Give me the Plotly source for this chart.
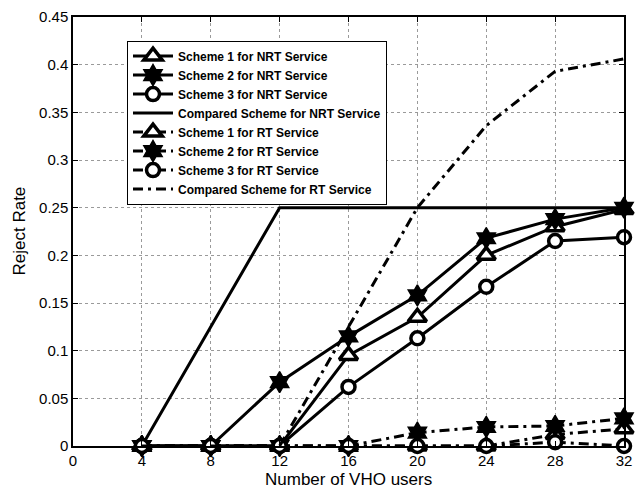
import plotly.graph_objects as go

# Number of VHO users
users = [4, 8, 12, 16, 20, 24, 28, 32]

# Reject rate, NRT service
s1_nrt = [0, 0, 0, 0.095, 0.135, 0.200, 0.230, 0.248]
s2_nrt = [0, 0, 0.067, 0.115, 0.158, 0.218, 0.238, 0.250]
s3_nrt = [0, 0, 0, 0.062, 0.113, 0.167, 0.215, 0.219]
cmp_nrt = [0, 0.125, 0.25, 0.25, 0.25, 0.25, 0.25, 0.25]

# Reject rate, RT service
s1_rt = [0, 0, 0, 0, 0, 0, 0.012, 0.018]
s2_rt = [0, 0, 0, 0, 0.014, 0.020, 0.021, 0.029]
s3_rt = [0, 0, 0, 0, 0, 0, 0.004, 0]
cmp_rt = [0, 0, 0, 0.125, 0.25, 0.336, 0.393, 0.406]

x_ticks = [0, 4, 8, 12, 16, 20, 24, 28, 32]
y_ticks = [0, 0.05, 0.1, 0.15, 0.2, 0.25, 0.3, 0.35, 0.4, 0.45]
y_labels = ["0", "0.05", "0.1", "0.15", "0.2", "0.25", "0.3", "0.35", "0.4", "0.45"]

LW = 3
DASHDOT = "10px,5px,3px,5px"
FONT = "Arial, Liberation Sans, sans-serif"

tri = dict(symbol="triangle-up", size=16, color="white", line=dict(color="black", width=3.5))
star = dict(symbol="hexagram", size=16, color="black", line=dict(color="black", width=1.5))
circ = dict(symbol="circle", size=13, color="white", line=dict(color="black", width=3.5))

series = [
    ("Scheme 1 for NRT Service", s1_nrt, "solid", tri),
    ("Scheme 2 for NRT Service", s2_nrt, "solid", star),
    ("Scheme 3 for NRT Service", s3_nrt, "solid", circ),
    ("Compared Scheme for NRT Service", cmp_nrt, "solid", None),
    ("Scheme 1 for RT Service", s1_rt, DASHDOT, tri),
    ("Scheme 2 for RT Service", s2_rt, DASHDOT, star),
    ("Scheme 3 for RT Service", s3_rt, DASHDOT, circ),
    ("Compared Scheme for RT Service", cmp_rt, DASHDOT, None),
]

fig = go.Figure()
for name, ys, dash, mk in series:
    fig.add_trace(go.Scatter(
        x=users, y=ys, name=name,
        mode="lines+markers" if mk else "lines",
        line=dict(color="black", width=LW, dash=dash),
        marker=mk,
        cliponaxis=False,
    ))

axis_common = dict(
    showline=True, linecolor="black", linewidth=1.5, mirror="ticks",
    ticks="inside", ticklen=5, tickcolor="black", tickwidth=1,
    showgrid=True, gridcolor="#9a9a9a", griddash="dot", gridwidth=1,
    zeroline=False, automargin=False,
    tickfont=dict(family=FONT, size=15, color="black"),
)

fig.update_layout(
    width=635, height=488,
    margin=dict(l=73, r=11, t=17, b=42),
    paper_bgcolor="white", plot_bgcolor="white",
    font=dict(family=FONT, color="black"),
    xaxis=dict(range=[0, 32], tickvals=x_ticks, **axis_common),
    yaxis=dict(range=[0, 0.45], tickvals=y_ticks, ticktext=y_labels, **axis_common),
    legend=dict(
        x=0.098, y=0.945, xanchor="left", yanchor="top",
        bgcolor="white", bordercolor="black", borderwidth=1,
        font=dict(family=FONT, size=12, color="black", weight="bold"),
        tracegroupgap=0, itemwidth=40,
    ),
    annotations=[
        # axis titles
        dict(text="Number of VHO users", xref="paper", yref="paper",
             x=0.5, y=0, yshift=-33, xanchor="center", yanchor="middle",
             showarrow=False, font=dict(family=FONT, size=17, color="black")),
        dict(text="Reject Rate", xref="paper", yref="paper",
             x=0, y=0.5, xshift=-54, xanchor="center", yanchor="middle",
             textangle=-90, showarrow=False,
             font=dict(family=FONT, size=17, color="black")),
    ],
)

fig.write_html("out.html")
